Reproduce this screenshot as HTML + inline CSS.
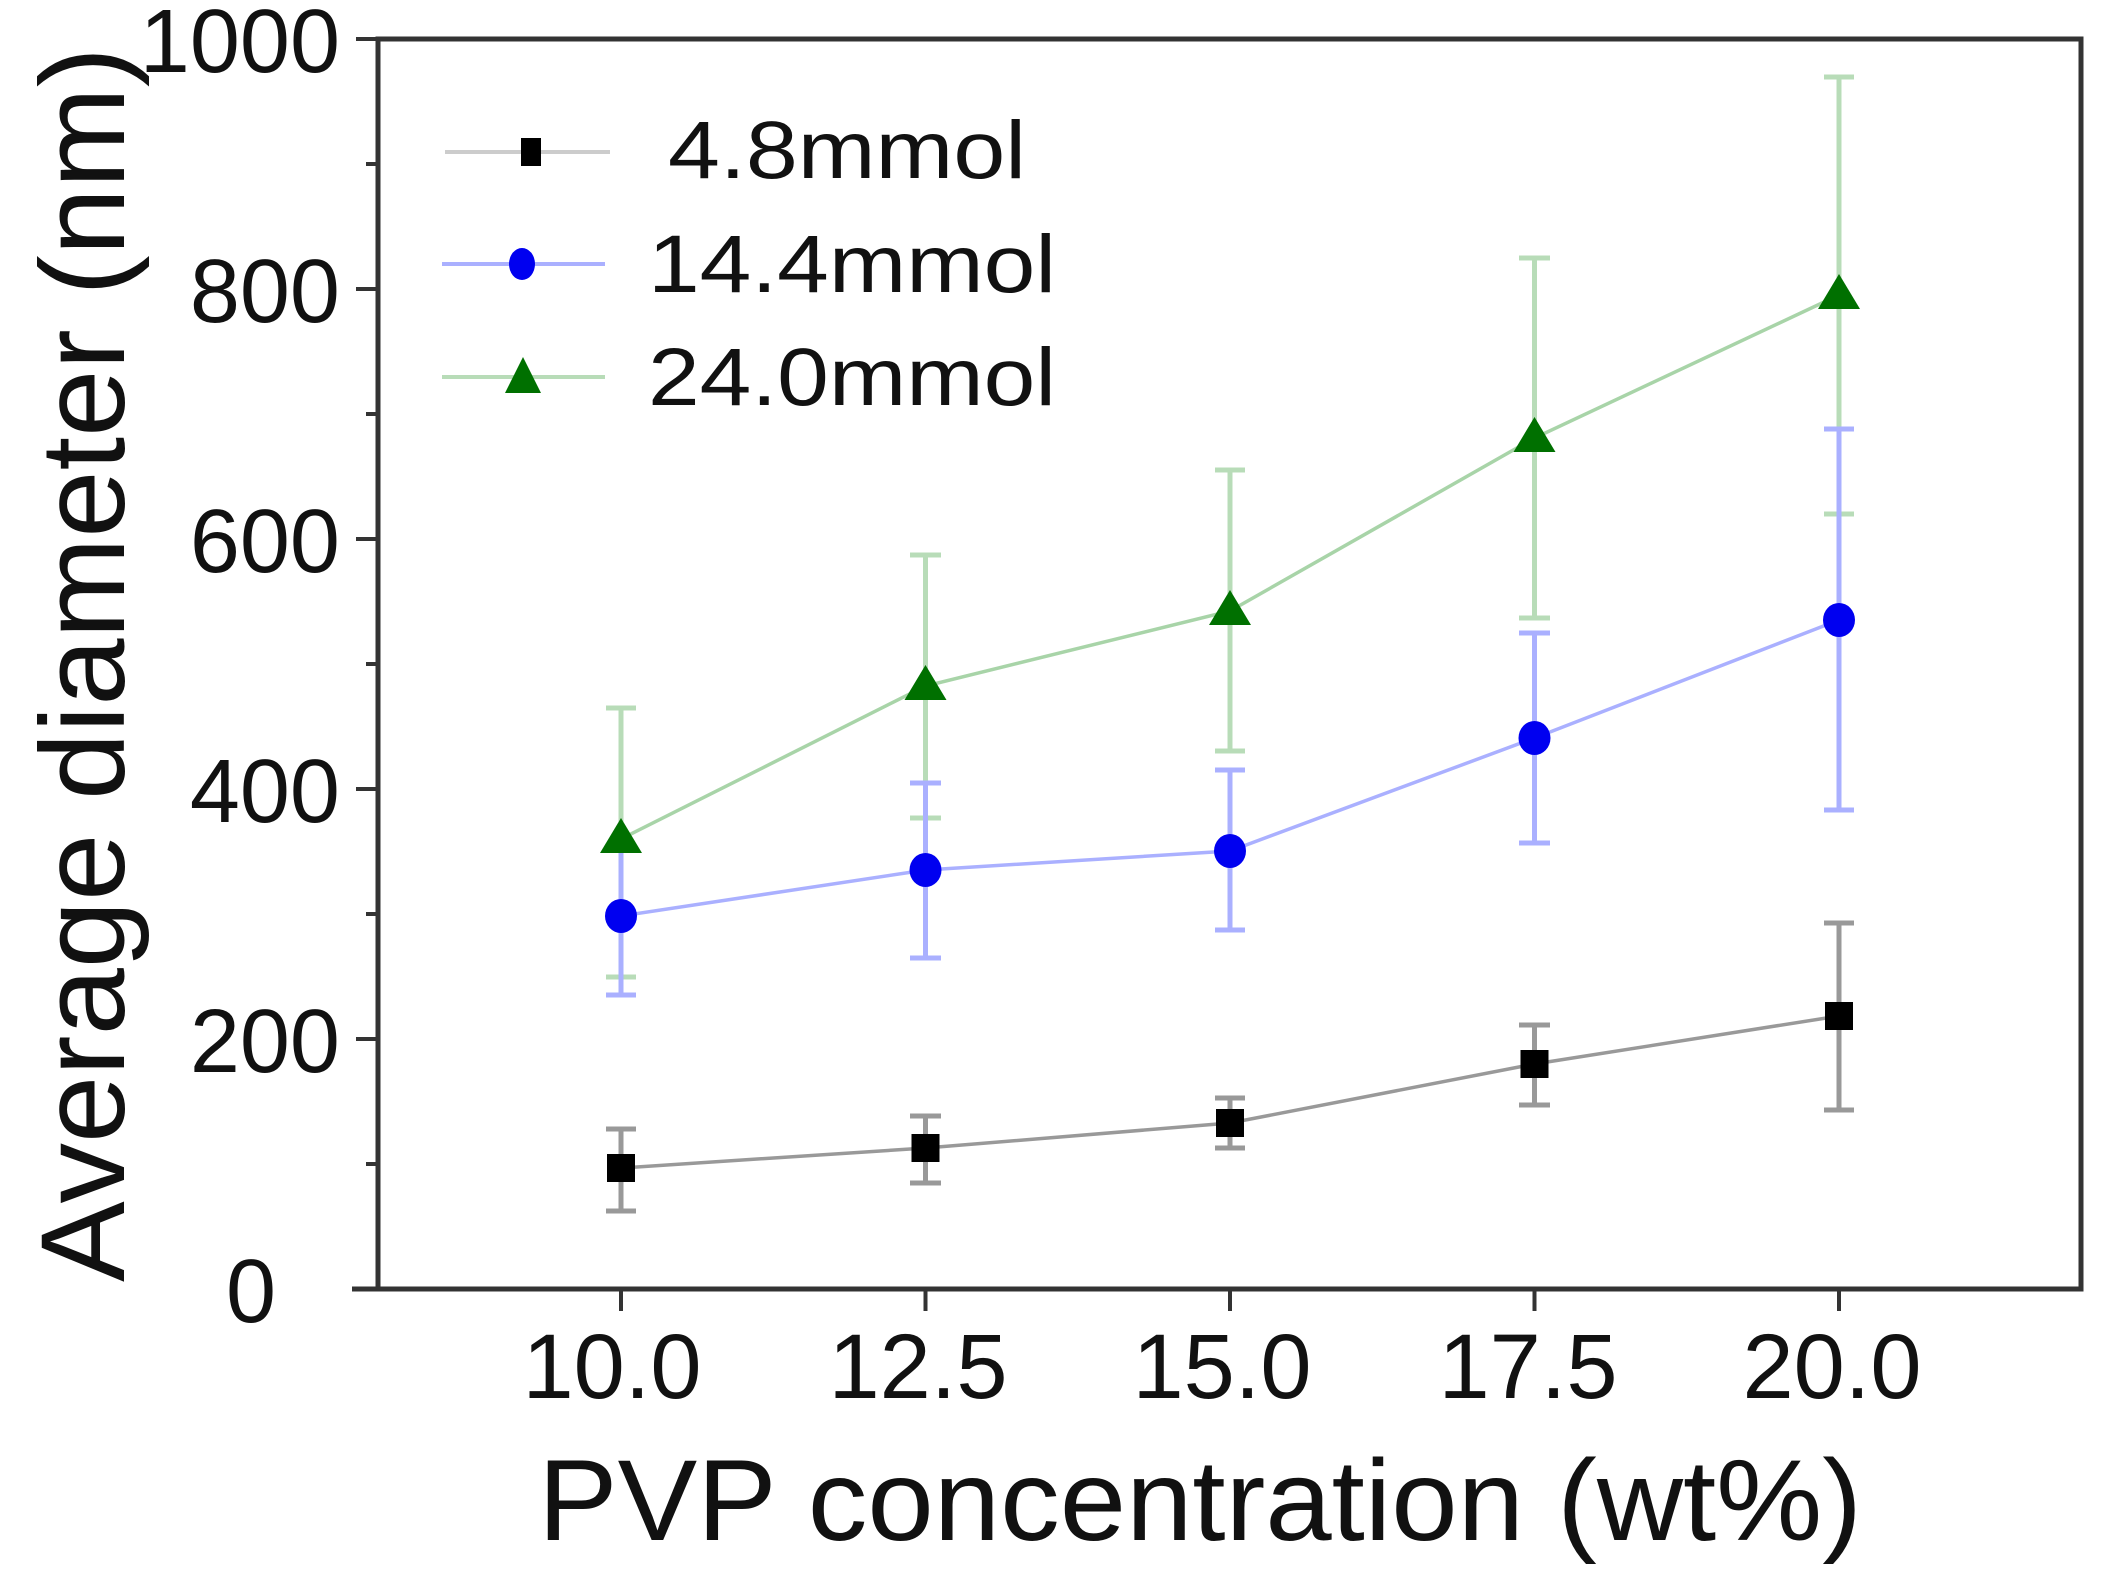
<!DOCTYPE html>
<html><head><meta charset="utf-8"><style>html,body{margin:0;padding:0;background:#fff}svg{display:block}</style></head>
<body>
<svg width="2108" height="1578" viewBox="0 0 2108 1578" xmlns="http://www.w3.org/2000/svg" font-family="'Liberation Sans', sans-serif">
<rect width="2108" height="1578" fill="#fff"/>
<g stroke="#333" stroke-width="5" fill="none">
<rect x="378" y="39" width="1703" height="1250"/>
<line x1="352" y1="1289" x2="378" y2="1289"/>
</g>
<g stroke="#333" stroke-width="4">
<line x1="356" y1="39" x2="378" y2="39"/>
<line x1="356" y1="289" x2="378" y2="289"/>
<line x1="356" y1="539" x2="378" y2="539"/>
<line x1="356" y1="789" x2="378" y2="789"/>
<line x1="356" y1="1039" x2="378" y2="1039"/>
<line x1="366" y1="164" x2="378" y2="164"/>
<line x1="366" y1="414" x2="378" y2="414"/>
<line x1="366" y1="664" x2="378" y2="664"/>
<line x1="366" y1="914" x2="378" y2="914"/>
<line x1="366" y1="1164" x2="378" y2="1164"/>
<line x1="621" y1="1289" x2="621" y2="1311"/>
<line x1="925.5" y1="1289" x2="925.5" y2="1311"/>
<line x1="1230" y1="1289" x2="1230" y2="1311"/>
<line x1="1534.5" y1="1289" x2="1534.5" y2="1311"/>
<line x1="1839" y1="1289" x2="1839" y2="1311"/>
</g>
<g font-size="90" fill="#111" text-anchor="end">
<text x="340" y="72">1000</text>
<text x="340" y="322">800</text>
<text x="340" y="572">600</text>
<text x="340" y="822">400</text>
<text x="340" y="1072">200</text>
<text x="276" y="1322">0</text>
</g>
<g font-size="92" fill="#111" text-anchor="middle">
<text x="612" y="1398">10.0</text>
<text x="918" y="1398">12.5</text>
<text x="1222" y="1398">15.0</text>
<text x="1528" y="1398">17.5</text>
<text x="1832" y="1398">20.0</text>
</g>
<text x="538" y="1540" font-size="115" fill="#111" textLength="1324" lengthAdjust="spacingAndGlyphs">PVP concentration (wt%)</text>
<text transform="translate(124,1282) rotate(-90)" font-size="120" fill="#111" textLength="1235" lengthAdjust="spacingAndGlyphs">Average diameter (nm)</text>

<g stroke="#b8dcb8" stroke-width="5">
<line x1="621" y1="708" x2="621" y2="977"/><line x1="606" y1="708" x2="636" y2="708"/><line x1="606" y1="977" x2="636" y2="977"/>
<line x1="925.5" y1="555" x2="925.5" y2="818"/><line x1="910" y1="555" x2="941" y2="555"/><line x1="910" y1="818" x2="941" y2="818"/>
<line x1="1230" y1="470" x2="1230" y2="751"/><line x1="1215" y1="470" x2="1245" y2="470"/><line x1="1215" y1="751" x2="1245" y2="751"/>
<line x1="1534.5" y1="258" x2="1534.5" y2="618"/><line x1="1519" y1="258" x2="1550" y2="258"/><line x1="1519" y1="618" x2="1550" y2="618"/>
<line x1="1839" y1="77" x2="1839" y2="514"/><line x1="1824" y1="77" x2="1854" y2="77"/><line x1="1824" y1="514" x2="1854" y2="514"/>
</g>
<g stroke="#aab0ff" stroke-width="5">
<line x1="621" y1="839" x2="621" y2="995"/><line x1="606" y1="995" x2="636" y2="995"/>
<line x1="925.5" y1="783" x2="925.5" y2="958"/><line x1="910" y1="783" x2="941" y2="783"/><line x1="910" y1="958" x2="941" y2="958"/>
<line x1="1230" y1="770" x2="1230" y2="930"/><line x1="1215" y1="770" x2="1245" y2="770"/><line x1="1215" y1="930" x2="1245" y2="930"/>
<line x1="1534.5" y1="633" x2="1534.5" y2="843"/><line x1="1519" y1="633" x2="1550" y2="633"/><line x1="1519" y1="843" x2="1550" y2="843"/>
<line x1="1839" y1="429" x2="1839" y2="810"/><line x1="1824" y1="429" x2="1854" y2="429"/><line x1="1824" y1="810" x2="1854" y2="810"/>
</g>
<g stroke="#999" stroke-width="5">
<line x1="621" y1="1129" x2="621" y2="1211"/><line x1="606" y1="1129" x2="636" y2="1129"/><line x1="606" y1="1211" x2="636" y2="1211"/>
<line x1="925.5" y1="1116" x2="925.5" y2="1183"/><line x1="910" y1="1116" x2="941" y2="1116"/><line x1="910" y1="1183" x2="941" y2="1183"/>
<line x1="1230" y1="1098" x2="1230" y2="1148"/><line x1="1215" y1="1098" x2="1245" y2="1098"/><line x1="1215" y1="1148" x2="1245" y2="1148"/>
<line x1="1534.5" y1="1025" x2="1534.5" y2="1105"/><line x1="1519" y1="1025" x2="1550" y2="1025"/><line x1="1519" y1="1105" x2="1550" y2="1105"/>
<line x1="1839" y1="923" x2="1839" y2="1110"/><line x1="1824" y1="923" x2="1854" y2="923"/><line x1="1824" y1="1110" x2="1854" y2="1110"/>
</g>
<polyline fill="none" stroke="#a8d4a8" stroke-width="3.5" points="621,839 925.5,686 1230,611 1534.5,438 1839,295"/>
<polyline fill="none" stroke="#aab0ff" stroke-width="3.5" points="621,916 925.5,870 1230,851 1534.5,738 1839,620"/>
<polyline fill="none" stroke="#999" stroke-width="3.5" points="621,1168 925.5,1148 1230,1123 1534.5,1064 1839,1016"/>
<g fill="#007000">
<polygon points="621,818 600,853 642,853"/>
<polygon points="925.5,665 904.5,700 946.5,700"/>
<polygon points="1230,590 1209,625 1251,625"/>
<polygon points="1534.5,417 1513.5,452 1555.5,452"/>
<polygon points="1839,274 1818,309 1860,309"/>
</g>
<g fill="#0000f0">
<ellipse cx="621" cy="916" rx="16" ry="17"/>
<ellipse cx="925.5" cy="870" rx="16" ry="17"/>
<ellipse cx="1230" cy="851" rx="16" ry="17"/>
<ellipse cx="1534.5" cy="738" rx="16" ry="17"/>
<ellipse cx="1839" cy="620" rx="16" ry="17"/>
</g>
<g fill="#000">
<rect x="607" y="1154" width="28" height="28"/>
<rect x="911.5" y="1134" width="28" height="28"/>
<rect x="1216" y="1109" width="28" height="28"/>
<rect x="1520.5" y="1050" width="28" height="28"/>
<rect x="1825" y="1002" width="28" height="28"/>
</g>
<line x1="445" y1="152" x2="610" y2="152" stroke="#ccc" stroke-width="4"/>
<rect x="521" y="138" width="20" height="28" fill="#000"/>
<line x1="442" y1="264" x2="605" y2="264" stroke="#aab0ff" stroke-width="4"/>
<ellipse cx="522" cy="264" rx="13" ry="16" fill="#0000f0"/>
<line x1="442" y1="377" x2="605" y2="377" stroke="#b8dcb8" stroke-width="4"/>
<polygon points="523,357 505,393 541,393" fill="#007000"/>
<g font-size="82" fill="#111">
<text x="668" y="178" textLength="358" lengthAdjust="spacingAndGlyphs">4.8mmol</text>
<text x="648" y="292" textLength="408" lengthAdjust="spacingAndGlyphs">14.4mmol</text>
<text x="648" y="405" textLength="408" lengthAdjust="spacingAndGlyphs">24.0mmol</text>
</g>
</svg>
</body></html>
